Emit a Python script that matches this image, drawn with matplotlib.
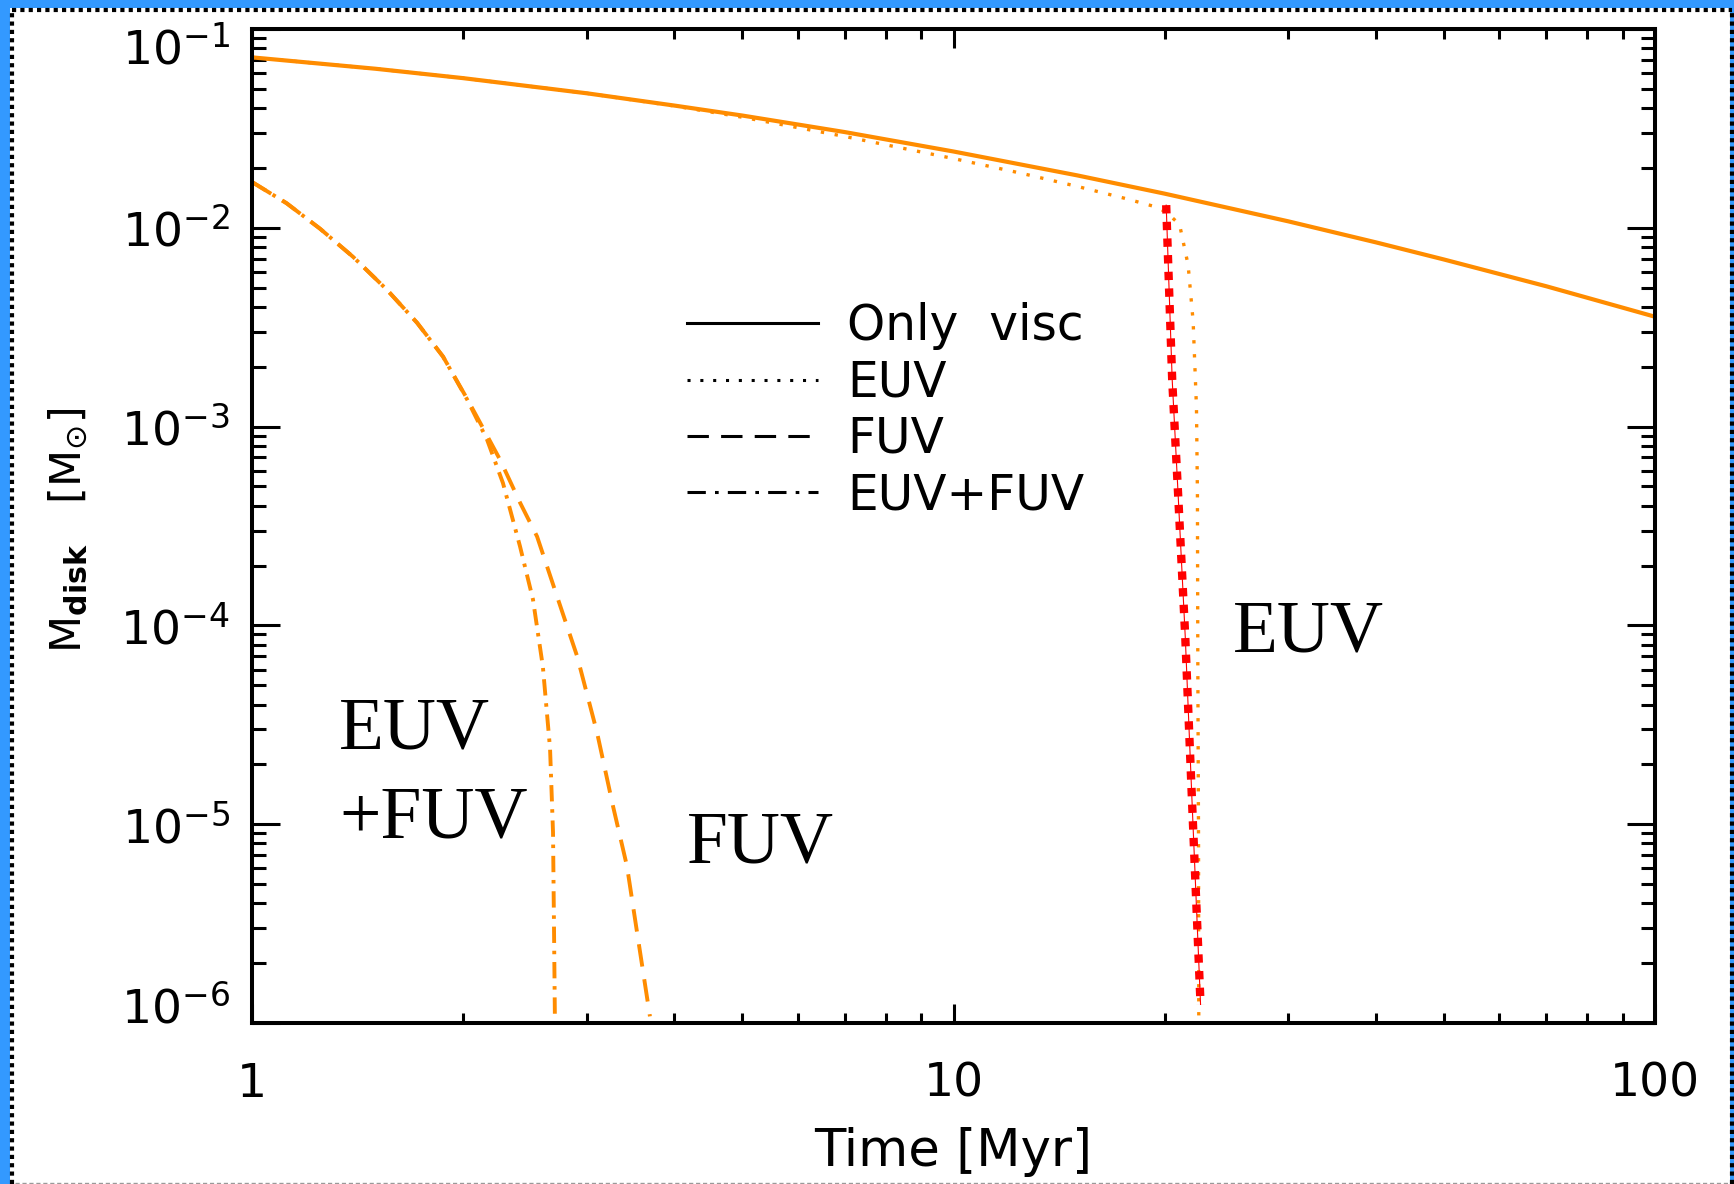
import numpy as np
import matplotlib.pyplot as plt
from matplotlib.lines import Line2D
from matplotlib.patches import Rectangle
from matplotlib.transforms import ScaledTranslation

# disk mass vs time
t_visc = [1, 1.5, 2, 3, 4, 5, 7, 10, 15, 20, 30, 40, 50, 70, 100]
m_visc = [0.072, 0.0631, 0.0566, 0.0475, 0.0412, 0.0367, 0.0303, 0.0242,
          0.01836, 0.01485, 0.01078, 0.00845, 0.00693, 0.00508, 0.00357]

t_euv = [1, 1.5, 2, 3, 4, 5, 7, 10, 12.5, 15, 17.5, 19.4, 20.1, 21.0, 21.6,
         21.96, 22.2, 22.27, 22.3, 22.35, 22.37]
m_euv = [0.072, 0.0631, 0.0566, 0.0475, 0.0410, 0.0360, 0.0288, 0.0223,
         0.0188, 0.01616, 0.0141, 0.01276, 0.0120, 0.0104, 0.0065, 0.00337,
         1.25e-3, 4.6e-4, 6.2e-5, 8.5e-6, 1.0e-6]

t_euv_red = [20.1, 20.5, 20.9, 21.4, 21.9, 22.5]
m_euv_red = [0.0130, 1.72e-3, 4.6e-4, 8.7e-5, 1.2e-5, 1.24e-6]

t_fuv = [1, 1.12, 1.25, 1.393, 1.557, 1.719, 1.872, 2.026, 2.113, 2.258, 2.41,
         2.549, 2.731, 2.907, 3.103, 3.271, 3.424, 3.539, 3.692]
m_fuv = [0.017, 0.0133, 0.0099, 0.00715, 0.00488, 0.00333, 0.00225, 1.38e-3,
         1.05e-3, 6.8e-4, 4.15e-4, 2.8e-4, 1.35e-4, 7.0e-5, 2.9e-5, 1.23e-5,
         6.15e-6, 2.86e-6, 1.08e-6]

t_both = [1, 1.12, 1.25, 1.393, 1.557, 1.719, 1.872, 2.026, 2.163, 2.279, 2.41,
          2.515, 2.598, 2.66, 2.686, 2.695, 2.703]
m_both = [0.017, 0.0133, 0.0099, 0.00715, 0.00488, 0.00333, 0.00225, 1.37e-3,
          8.6e-4, 5.2e-4, 2.5e-4, 1.35e-4, 6.2e-5, 2.4e-5, 9.1e-6, 2.9e-6, 1.0e-6]

y_ticks = [1e-6, 1e-5, 1e-4, 1e-3, 1e-2, 1e-1]
y_ticklabels = [r'$\mathdefault{10^{-6}}$', r'$\mathdefault{10^{-5}}$',
                r'$\mathdefault{10^{-4}}$', r'$\mathdefault{10^{-3}}$',
                r'$\mathdefault{10^{-2}}$', r'$\mathdefault{10^{-1}}$']
x_ticks = [1, 10, 100]
x_ticklabels = ['1', '10', '100']

leg_labels = ['Only  visc', 'EUV', 'FUV', 'EUV+FUV']

orange = '#ff8c00'
W, H = 1734, 1184

fig = plt.figure(figsize=(W/100, H/100), dpi=100)
ax = fig.add_axes([252/W, 1-1023/H, 1403/W, 994/H])

ax.plot(t_visc, m_visc, color=orange, lw=3.0)
ax.plot(t_euv, m_euv, color=orange, lw=2.4, dashes=(1, 3.2))
ax.plot(t_fuv, m_fuv, color=orange, lw=2.8, dashes=(5.8, 3.3))
ax.plot(t_both, m_both, color=orange, lw=2.8, dashes=(4.2, 2.0, 0.9, 2.0))
ax.plot(t_euv_red, m_euv_red, color='red', lw=0.8)
ax.plot(t_euv_red, m_euv_red, color='red', lw=6.0, dashes=(1, 1.0),
        dash_capstyle='butt')

ax.set_xscale('log')
ax.set_yscale('log')
ax.set_xlim(1, 100)
ax.set_ylim(1e-6, 1e-1)
ax.set_xticks(x_ticks, x_ticklabels)
ax.set_yticks(y_ticks, y_ticklabels)

for s in ax.spines.values():
    s.set_linewidth(2.9)
ax.tick_params(which='both', direction='in', top=True, right=True, width=2.2)
ax.tick_params(axis='y', which='major', length=20, labelsize=34, pad=16)
ax.tick_params(axis='y', which='minor', length=10)
ax.tick_params(axis='x', which='major', length=14, labelsize=34, pad=28)
ax.tick_params(axis='x', which='minor', length=7)

# IDL keeps the end labels inside the axis range
yt = ax.yaxis.get_major_ticks()
yt[0].label1.set_transform(yt[0].label1.get_transform() +
                           ScaledTranslation(0, 0.18, fig.dpi_scale_trans))
yt[-1].label1.set_transform(yt[-1].label1.get_transform() +
                            ScaledTranslation(0, -0.16, fig.dpi_scale_trans))

ax.set_xlabel('Time [Myr]', fontsize=37)
ax.xaxis.set_label_coords(0.5, -0.1051)
ax.xaxis.label.set_va('top')
ax.set_ylabel(r'M$_{\mathbf{disk}}$   [M$_{\odot}$]', fontsize=31)
ax.yaxis.set_label_coords(-0.1155, 0.496)

handles = [Line2D([], [], color='k', lw=2.2),
           Line2D([], [], color='k', lw=2.2, dashes=(1, 3.2)),
           Line2D([], [], color='k', lw=2.2, dashes=(7, 4)),
           Line2D([], [], color='k', lw=2.2, dashes=(6, 3, 1.2, 3))]
ax.legend(handles, leg_labels, loc='upper left', bbox_to_anchor=(0.310, 0.725),
          frameon=False, fontsize=35, handlelength=2.7, handletextpad=0.6,
          labelspacing=0.17, borderpad=0, borderaxespad=0)

serif = dict(family='Liberation Serif', fontsize=53, va='baseline', ha='left')
ax.text(1.33, 2.41e-5, 'EUV', **serif)
ax.text(1.33, 8.6e-6, '+FUV', **serif)
ax.text(4.17, 6.44e-6, 'FUV', **serif)
ax.text(25.0, 7.4e-5, 'EUV', **serif)

# frame around the picture
blue = '#3399ff'
tf = fig.transFigure
fig.add_artist(Rectangle((0, 0), 10/W, 1, transform=tf, color=blue, lw=0))
fig.add_artist(Rectangle((0, 1-8/H), 1, 8/H, transform=tf, color=blue, lw=0))
fig.add_artist(Rectangle((1730/W, 0), 4/W, 1, transform=tf, color=blue, lw=0))
fig.add_artist(Line2D([12/W, 12/W], [0, 1-9.5/H], transform=tf, color='k',
                      lw=3, dashes=(1, 1)))
fig.add_artist(Line2D([12/W, 1732/W], [1-9.5/H, 1-9.5/H], transform=tf, color='k',
                      lw=3, dashes=(1, 1)))
fig.add_artist(Line2D([1732/W, 1732/W], [0, 1-9.5/H], transform=tf, color='k',
                      lw=3, dashes=(1, 1)))
fig.add_artist(Line2D([15/W, 1730/W], [0.8/H, 0.8/H], transform=tf, color='#999999',
                      lw=1, dashes=(3, 2)))

fig.savefig('out.png', dpi=100)
